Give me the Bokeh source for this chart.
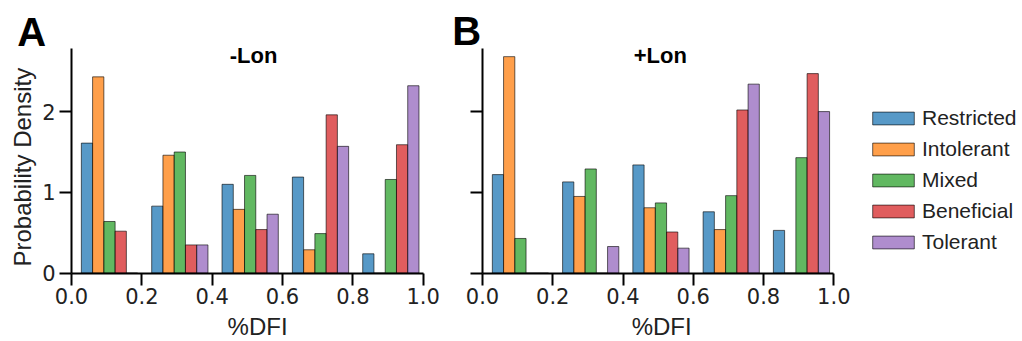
import math
from bokeh.plotting import figure
from bokeh.layouts import row
from bokeh.models import Label, Legend, LegendItem, FixedTicker
from bokeh.embed import file_html
from bokeh.resources import INLINE

# ---------------- data ----------------
series = ["Restricted", "Intolerant", "Mixed", "Beneficial", "Tolerant"]
colors = ["#1f77b4", "#ff7f0e", "#2ca02c", "#d62728", "#9467bd"]
bin_edges = [0.008, 0.208, 0.408, 0.608, 0.808, 1.008]

# panel A (-Lon): density per bin for each series
a_restricted = [1.61, 0.83, 1.10, 1.19, 0.24]
a_intolerant = [2.43, 1.46, 0.79, 0.29, 0.0]
a_mixed = [0.64, 1.50, 1.21, 0.49, 1.16]
a_beneficial = [0.52, 0.35, 0.54, 1.96, 1.59]
a_tolerant = [0.0, 0.35, 0.73, 1.57, 2.32]

# panel B (+Lon)
b_restricted = [1.22, 1.13, 1.34, 0.76, 0.53]
b_intolerant = [2.68, 0.95, 0.81, 0.54, 0.0]
b_mixed = [0.43, 1.29, 0.87, 0.96, 1.43]
b_beneficial = [0.0, 0.0, 0.51, 2.02, 2.47]
b_tolerant = [0.0, 0.33, 0.31, 2.34, 2.00]

x_ticks = [0.0, 0.2, 0.4, 0.6, 0.8, 1.0]
x_tick_labels = ["0.0", "0.2", "0.4", "0.6", "0.8", "1.0"]
y_ticks = [0, 1, 2]
y_tick_labels = ["0", "1", "2"]

panel_a = [a_restricted, a_intolerant, a_mixed, a_beneficial, a_tolerant]
panel_b = [b_restricted, b_intolerant, b_mixed, b_beneficial, b_tolerant]

# ---------------- layout (pixels) ----------------
H = 341
Y0_PX = 272.7          # pixel row of y = 0
PX_PER_Y = 80.8        # pixels per density unit
Y_AXIS_END = 2.777
LABEL_FONT = "Liberation Sans"
TICK_FONT = "DejaVu Sans"


def make_panel(values, fig_width, x0_px, px_per_x):
    # the frame fills the whole canvas; axes sit at fixed data locations
    x_start = -x0_px / px_per_x
    x_end = (fig_width - x0_px) / px_per_x
    y_start = -(H - Y0_PX) / PX_PER_Y
    y_end = Y0_PX / PX_PER_Y
    p = figure(width=fig_width, height=H, x_range=(x_start, x_end),
               y_range=(y_start, y_end), output_backend="svg",
               toolbar_location=None, min_border=0)
    p.grid.visible = False
    p.outline_line_color = None
    p.background_fill_color = "white"
    p.border_fill_color = "white"

    renderers = []
    n = len(values)
    for i, vals in enumerate(values):
        xs, tops = [], []
        for k in range(len(bin_edges) - 1):
            w = bin_edges[k + 1] - bin_edges[k]
            bw = 0.8 * w / n
            xs.append(bin_edges[k] + 0.1 * w + (i + 0.5) * bw)
            tops.append(vals[k])
        bw = 0.8 * (bin_edges[1] - bin_edges[0]) / n
        r = p.vbar(x=xs, top=tops, width=bw, bottom=0,
                   fill_color=colors[i], fill_alpha=0.75,
                   line_color="black", line_alpha=0.6, line_width=1)
        renderers.append(r)

    for ax in (p.xaxis[0], p.yaxis[0]):
        ax.fixed_location = 0
        ax.axis_line_width = 2
        ax.axis_line_color = "black"
        ax.major_tick_line_width = 2
        ax.major_tick_line_color = "black"
        ax.major_tick_out = 12
        ax.major_tick_in = 0
        ax.minor_tick_line_color = None
        ax.major_label_text_font = TICK_FONT
        ax.major_label_text_font_size = "21px"
        ax.major_label_text_color = "#222222"

    p.xaxis.bounds = (0, 1)
    p.xaxis.ticker = FixedTicker(ticks=x_ticks)
    p.xaxis.major_label_overrides = {t: s for t, s in zip(x_ticks, x_tick_labels)}
    p.xaxis.major_label_standoff = 3
    p.yaxis.bounds = (0, Y_AXIS_END)
    p.yaxis.ticker = FixedTicker(ticks=y_ticks)
    p.yaxis.major_label_standoff = 4
    return p, renderers


def text(p, x, y, s, size, bold=False, align="center", baseline="alphabetic",
         angle=0.0, color="black"):
    p.add_layout(Label(x=x, y=y, text=s, text_font=LABEL_FONT,
                       text_font_size=size,
                       text_font_style="bold" if bold else "normal",
                       text_align=align, text_baseline=baseline,
                       angle=angle, text_color=color))


# ---- panel A ----
pA, rA = make_panel(panel_a, 440, 71.0, 351.7)
pA.yaxis.major_label_overrides = {t: s for t, s in zip(y_ticks, y_tick_labels)}
text(pA, -0.1544, 2.983, "A", "40px", bold=True, align="left")
text(pA, 0.5175, 2.69, "-Lon", "22px", bold=True)
text(pA, 0.529, -0.665, "%DFI", "24px", color="#222222")
text(pA, -0.139, 1.312, "Probability Density", "24px", baseline="middle",
     angle=math.pi / 2, color="#222222")

# ---- panel B ----
pB, rB = make_panel(panel_b, 582, 42.0, 351.3)
pB.yaxis.major_label_overrides = {t: "" for t in y_ticks}
text(pB, -0.0863, 3.0, "B", "40px", bold=True, align="left")
text(pB, 0.506, 2.69, "+Lon", "22px", bold=True)
text(pB, 0.51, -0.665, "%DFI", "24px", color="#222222")

legend = Legend(items=[LegendItem(label=s, renderers=[r]) for s, r in zip(series, rB)],
                location=(427, 87), padding=0, margin=0, spacing=7,
                glyph_width=52, glyph_height=16, label_height=23,
                label_standoff=3, label_text_font=LABEL_FONT,
                label_text_font_size="21px", label_text_color="#222222",
                border_line_color=None, background_fill_alpha=0)
pB.add_layout(legend, "center")

layout = row(pA, pB)
open("out.html", "w").write(file_html(layout, INLINE))
